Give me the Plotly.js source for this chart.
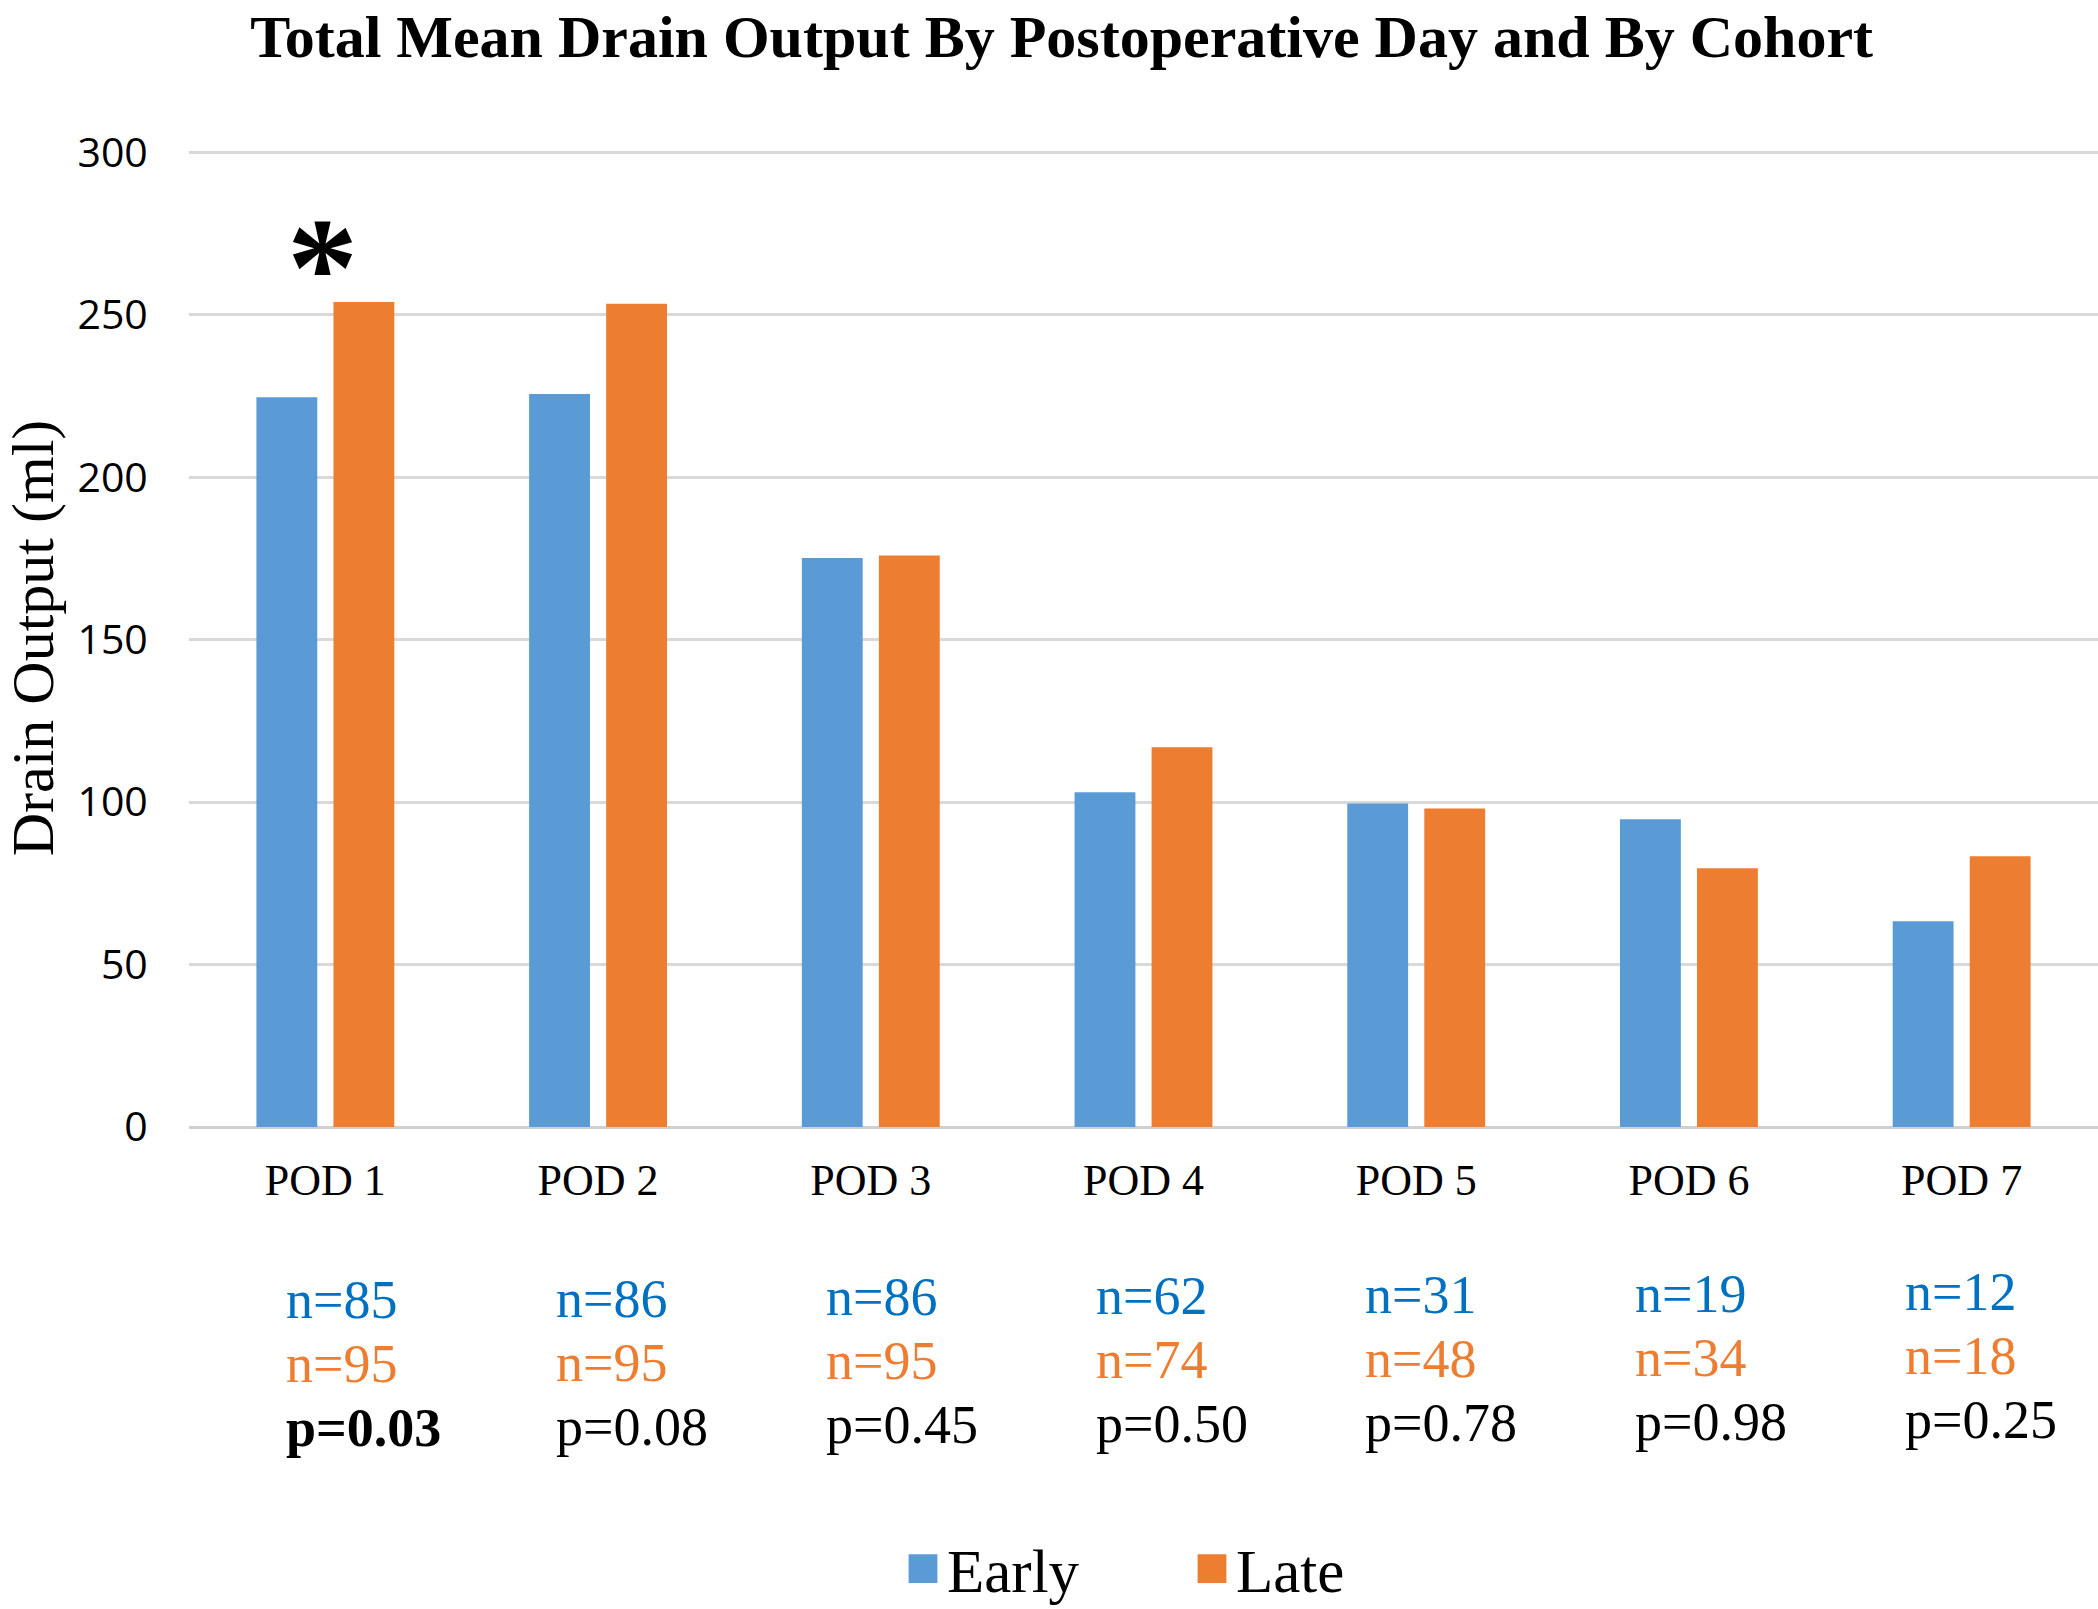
<!DOCTYPE html>
<html>
<head>
<meta charset="utf-8">
<script src="https://cdn.plot.ly/plotly-3.0.1.min.js"></script>
<style>
  html, body { margin: 0; padding: 0; background: #ffffff; }
  #chart { width: 2098px; height: 1609px; }
</style>
</head>
<body>
<div id="chart"></div>
<script>
// ---- data ----
const categories = ['POD 1', 'POD 2', 'POD 3', 'POD 4', 'POD 5', 'POD 6', 'POD 7'];
const earlyMean = [224.6, 225.6, 175.1, 103.0, 99.6, 94.7, 63.3];
const lateMean  = [253.9, 253.4, 175.9, 116.9, 98.0, 79.6, 83.3];
const earlyN = [85, 86, 86, 62, 31, 19, 12];
const lateN  = [95, 95, 95, 74, 48, 34, 18];
const pValues = ['0.03', '0.08', '0.45', '0.50', '0.78', '0.98', '0.25'];
const seriesNames = ['Early', 'Late'];

// ---- styling ----
const BLUE = '#5B9BD5';
const ORANGE = '#ED7D31';
const N_BLUE = '#0070C0';
const N_ORANGE = '#ED7D31';
const SERIF = '"Liberation Serif", "Times New Roman", serif';
const SANS = '"Open Sans", "Noto Sans", sans-serif';

const W = 2098, H = 1609;
const M = { l: 189, r: 0, t: 149, b: 482 };
const plotH = H - M.t - M.b;
const pxToPaperY = (py) => (H - M.b - py) / plotH;

const traces = [
  { type: 'bar', name: seriesNames[0], x: categories, y: earlyMean,
    marker: { color: BLUE, line: { width: 0 } }, hoverinfo: 'x+y+name' },
  { type: 'bar', name: seriesNames[1], x: categories, y: lateMean,
    marker: { color: ORANGE, line: { width: 0 } }, hoverinfo: 'x+y+name' }
];

const annotations = [];
// sample sizes and p-values under each day
const rowPx = [1300, 1364, 1428];
categories.forEach((c, i) => {
  const drift = -1.3 * i;
  const p = parseFloat(pValues[i]);
  const rows = [
    { text: 'n=' + earlyN[i], color: N_BLUE },
    { text: 'n=' + lateN[i], color: N_ORANGE },
    { text: p < 0.05 ? '<b>p=' + pValues[i] + '</b>' : 'p=' + pValues[i], color: '#000000' }
  ];
  rows.forEach((r, k) => {
    annotations.push({
      xref: 'x', yref: 'paper', x: c, y: pxToPaperY(rowPx[k] + drift),
      xanchor: 'left', yanchor: 'middle', xshift: -41 - 3 * i,
      text: r.text, showarrow: false,
      font: { family: SERIF, size: 54, color: r.color }
    });
  });
  // significance asterisk
  if (p < 0.05) {
    annotations.push({
      xref: 'x', yref: 'y', x: c, y: Math.max(earlyMean[i], lateMean[i]),
      xanchor: 'center', yanchor: 'bottom', yshift: -46, xshift: -3,
      text: '<b>*</b>', showarrow: false,
      font: { family: SERIF, size: 142, color: '#000000' }
    });
  }
});

const layout = {
  width: W, height: H,
  margin: M,
  paper_bgcolor: '#ffffff', plot_bgcolor: '#ffffff',
  title: {
    text: '<b>Total Mean Drain Output By Postoperative Day and By Cohort</b>',
    font: { family: SERIF, size: 60, color: '#000000' },
    x: 0.506, xref: 'container', xanchor: 'center',
    y: 1 - 36 / H, yref: 'container', yanchor: 'middle'
  },
  barmode: 'group',
  bargap: 0.435,
  bargroupgap: 0.21,
  showlegend: true,
  legend: {
    orientation: 'h', xref: 'container', yref: 'container',
    x: 907 / W, xanchor: 'left', y: 1 - 1569 / H, yanchor: 'middle',
    font: { family: SERIF, size: 61, color: '#000000' },
    itemwidth: 30, traceorder: 'normal', entrywidth: 244
  },
  xaxis: {
    type: 'category', automargin: false,
    showgrid: false, zeroline: false, showline: false,
    ticks: 'outside', ticklen: 14, tickcolor: 'rgba(0,0,0,0)',
    tickfont: { family: SERIF, size: 44, color: '#000000' }
  },
  yaxis: {
    range: [0, 301], dtick: 50, tick0: 0, automargin: false,
    showgrid: true, gridcolor: '#D9D9D9', gridwidth: 3,
    zeroline: true, zerolinecolor: '#D0D0D0', zerolinewidth: 3,
    showline: false,
    ticks: 'outside', ticklen: 32, tickcolor: 'rgba(0,0,0,0)',
    tickfont: { family: SANS, size: 41, color: '#000000' },
    title: {
      text: 'Drain Output (ml)',
      font: { family: SERIF, size: 60, color: '#000000' },
      standoff: 14
    }
  },
  annotations: annotations
};

Plotly.newPlot('chart', traces, layout, { displayModeBar: false, staticPlot: true }).then(function (gd) {
  // enlarge the legend swatches to match the reference's square keys
  gd.querySelectorAll('.legend .legendpoints path').forEach(function (p) {
    p.setAttribute('transform', 'translate(16,0) scale(2.4)');
  });
});
</script>
</body>
</html>
